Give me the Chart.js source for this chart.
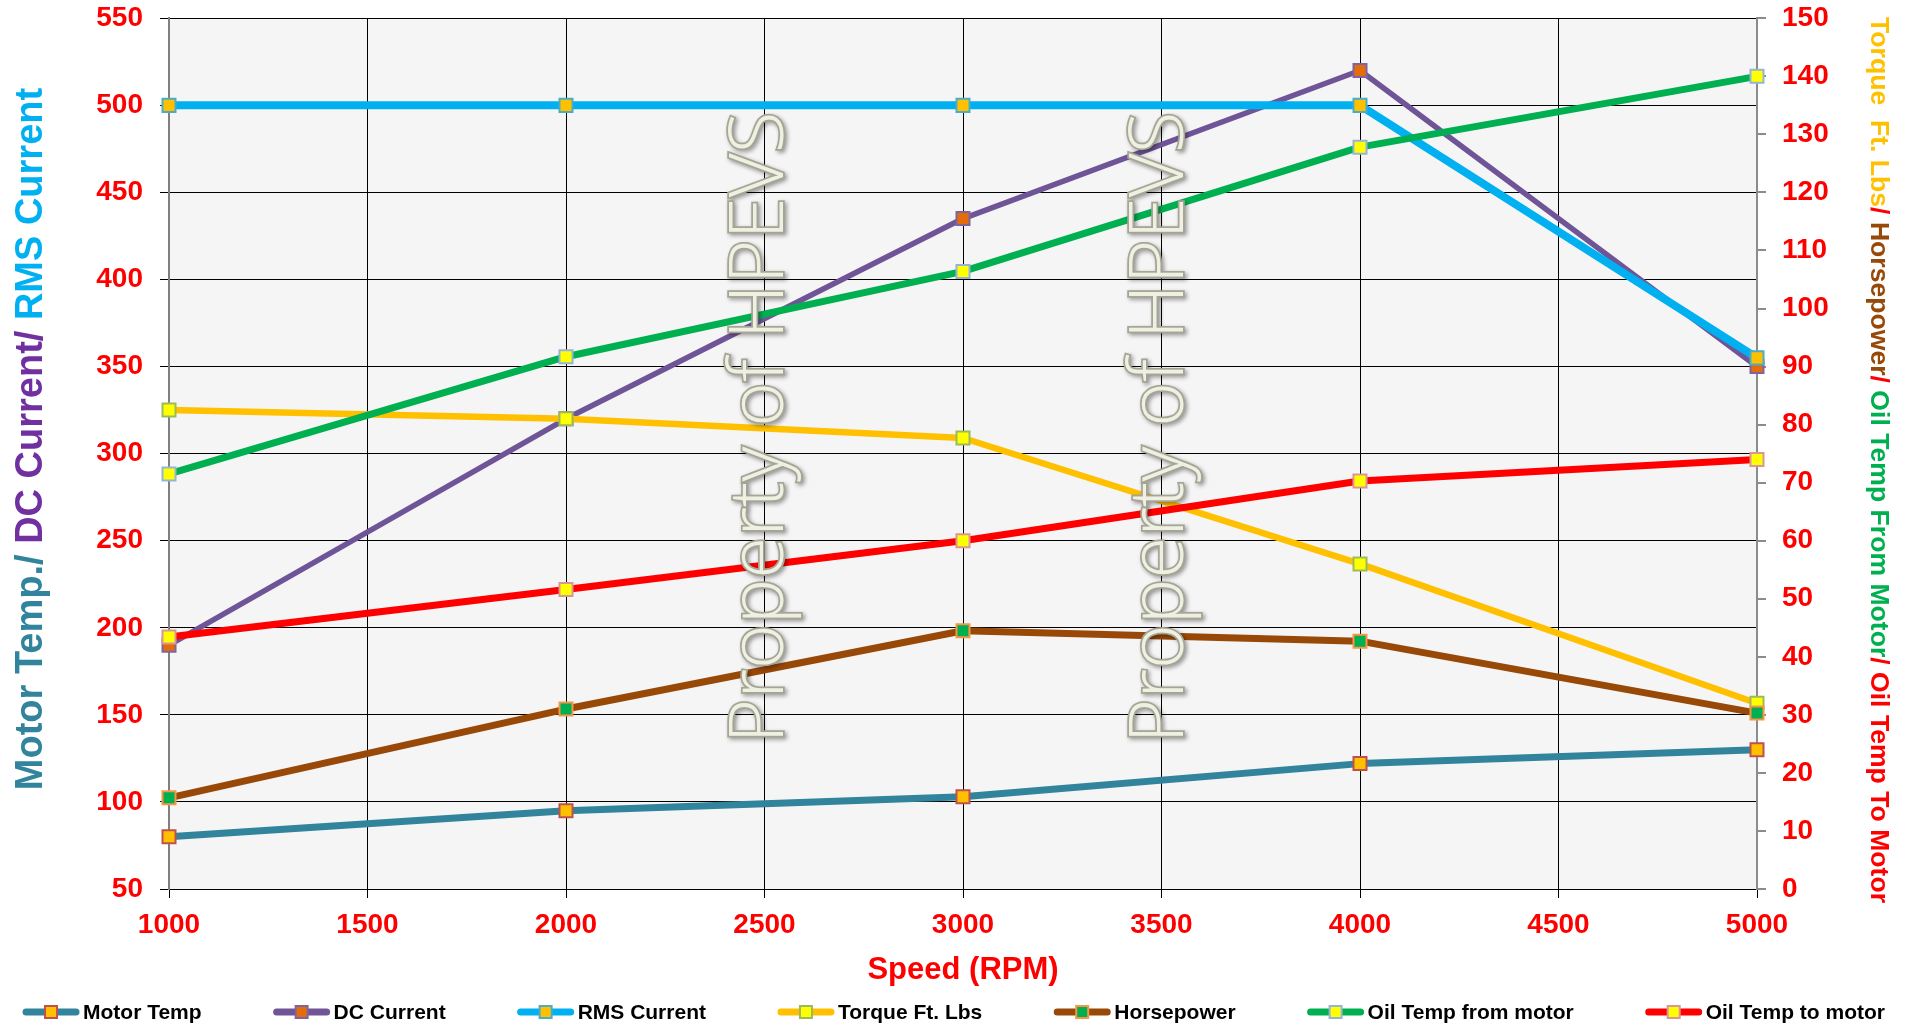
<!DOCTYPE html>
<html>
<head>
<meta charset="utf-8">
<script src="https://cdn.jsdelivr.net/npm/chart.js@4.4.0/dist/chart.umd.min.js"></script>
<style>
  html, body { margin: 0; padding: 0; background: #fff; }
  #wrap { width: 1907px; height: 1026px; position: relative; }
</style>
</head>
<body>
<div id="wrap"><canvas id="motorChart"></canvas></div>
<script>
// values
const speeds = [1000, 2000, 3000, 4000, 5000];
const motorTemp = [80, 95, 103, 122, 130];
const dcCurrent = [190, 320, 435, 520, 350];
const rmsCurrent = [500, 500, 500, 500, 355];
const torqueFtLbs = [82.5, 81, 77.7, 56, 32];
const horsepower = [15.7, 31, 44.5, 42.7, 30.3];
const oilTempFrom = [71.5, 91.7, 106.4, 127.8, 140];
const oilTempTo = [43.4, 51.6, 60, 70.3, 74];

const speedTicks = [1000, 1500, 2000, 2500, 3000, 3500, 4000, 4500, 5000];
const leftTicks = [50, 100, 150, 200, 250, 300, 350, 400, 450, 500, 550];
const rightTicks = [0, 10, 20, 30, 40, 50, 60, 70, 80, 90, 100, 110, 120, 130, 140, 150];

const leftTitle = [['Motor Temp./ ', '#31849B'], ['DC Current/ ', '#7030A0'], ['RMS Current', '#00B0F0']];
const rightTitle = [['Torque  Ft. Lbs', '#FFC000'], ['/ ', '#FF0000'], ['Horsepower', '#984807'], ['/ ', '#FF0000'],
                    ['Oil Temp From Motor', '#00B050'], ['/ ', '#FF0000'], ['Oil Temp To Motor', '#FF0000']];
const watermark = 'Property of HPEVS';

const FONT = '"Liberation Sans", Arial, sans-serif';
Chart.defaults.font.family = FONT;

function series(label, values, axis, line, width, fill, edge, order) {
    return {
        label: label,
        yAxisID: axis,
        data: speeds.map((s, i) => ({ x: s, y: values[i] })),
        borderColor: line,
        borderWidth: width,
        borderJoinStyle: 'round',
        borderCapStyle: 'round',
        pointStyle: 'rect',
        pointRadius: 9.2,
        pointHoverRadius: 9.2,
        pointBackgroundColor: fill,
        pointBorderColor: edge,
        pointBorderWidth: 2,
        tension: 0,
        fill: false,
        clip: false,
        order: order
    };
}

const datasets = [
    series('Motor Temp', motorTemp, 'y', '#31849B', 7, '#FFC000', '#C0504D', 7),
    series('DC Current', dcCurrent, 'y', '#6F5597', 5.5, '#E46C0A', '#8064A2', 6),
    series('RMS Current', rmsCurrent, 'y', '#00B0F0', 8, '#FFC000', '#4BACC6', 5),
    series('Torque Ft. Lbs', torqueFtLbs, 'y1', '#FFC000', 6.5, '#FFFF00', '#9BBB59', 4),
    series('Horsepower', horsepower, 'y1', '#984807', 7, '#00B050', '#F79646', 3),
    series('Oil Temp from motor', oilTempFrom, 'y1', '#00B050', 7, '#FFFF00', '#95B3D7', 2),
    series('Oil Temp to motor', oilTempTo, 'y1', '#FF0000', 7, '#FFFF00', '#D99694', 1)
];

function drawParts(ctx, parts, x, y, angle, font) {
    ctx.save();
    ctx.translate(x, y);
    ctx.rotate(angle);
    ctx.font = font;
    ctx.textAlign = 'left';
    ctx.textBaseline = 'alphabetic';
    const total = parts.reduce((sum, p) => sum + ctx.measureText(p[0]).width, 0);
    let cx = -total / 2;
    parts.forEach(p => {
        ctx.fillStyle = p[1];
        ctx.fillText(p[0], cx, 0);
        cx += ctx.measureText(p[0]).width;
    });
    ctx.restore();
}

const decorPlugin = {
    id: 'decor',
    beforeDraw(chart) {
        const { ctx, chartArea: a } = chart;
        ctx.save();
        ctx.fillStyle = '#F5F5F5';
        ctx.fillRect(a.left, a.top, a.right - a.left, a.bottom - a.top);
        ctx.restore();
    },
    afterDatasetsDraw(chart) {
        const { ctx, chartArea: a } = chart;
        // watermark text laid over the lines
        ctx.save();
        ctx.font = '300 70px "Open Sans"';
        const size = 70 * 632 / ctx.measureText(watermark).width;
        ctx.font = '300 ' + size + 'px "Open Sans"';
        ctx.textAlign = 'center';
        ctx.textBaseline = 'middle';
        [0.373, 0.625].forEach(f => {
            ctx.save();
            ctx.translate(a.left + f * (a.right - a.left), a.top + 0.47 * (a.bottom - a.top));
            ctx.rotate(-Math.PI / 2);
            ctx.shadowColor = 'rgba(0,0,0,0.4)';
            ctx.shadowBlur = 4;
            ctx.shadowOffsetX = 2;
            ctx.shadowOffsetY = 2;
            ctx.lineWidth = 3.5;
            ctx.strokeStyle = '#A5A595';
            ctx.strokeText(watermark, 0, 0);
            ctx.shadowColor = 'transparent';
            ctx.fillStyle = '#F0F0E2';
            ctx.fillText(watermark, 0, 0);
            ctx.restore();
        });
        ctx.restore();
    },
    afterDraw(chart) {
        const ctx = chart.ctx;
        drawParts(ctx, leftTitle, 42, 439, -Math.PI / 2, 'bold 38px ' + FONT);
        drawParts(ctx, rightTitle, 1871, 460, Math.PI / 2, 'bold 26.6px ' + FONT);

        // legend: line + marker, then the name
        ctx.save();
        ctx.font = 'bold 21px ' + FONT;
        const gap = 71;
        const widths = chart.data.datasets.map(ds => 61 + ctx.measureText(ds.label).width);
        const total = widths.reduce((s, w) => s + w, 0) + gap * (widths.length - 1);
        let x = (chart.width - total) / 2;
        const y = chart.height - 14;
        chart.data.datasets.forEach((ds, i) => {
            ctx.strokeStyle = ds.borderColor;
            ctx.lineWidth = 7;
            ctx.lineCap = 'round';
            ctx.beginPath();
            ctx.moveTo(x + 4, y);
            ctx.lineTo(x + 54, y);
            ctx.stroke();
            ctx.fillStyle = ds.pointBackgroundColor;
            ctx.fillRect(x + 23, y - 6, 12, 12);
            ctx.lineWidth = 2;
            ctx.strokeStyle = ds.pointBorderColor;
            ctx.strokeRect(x + 23, y - 6, 12, 12);
            ctx.fillStyle = '#000';
            ctx.textAlign = 'left';
            ctx.textBaseline = 'middle';
            ctx.fillText(ds.label, x + 61, y + 1);
            x += widths[i] + gap;
        });
        ctx.restore();
    }
};

const tickFont = { family: FONT, size: 28, weight: 'bold' };
const plainLabel = v => String(v);

new Chart(document.getElementById('motorChart'), {
    type: 'line',
    data: { datasets: datasets },
    plugins: [decorPlugin],
    options: {
        responsive: true,
        maintainAspectRatio: false,
        animation: false,
        layout: { padding: { top: 18.3, bottom: 37, left: 0, right: 0 } },
        plugins: { legend: { display: false }, tooltip: { enabled: false } },
        scales: {
            x: {
                type: 'linear',
                min: 1000,
                max: 5000,
                afterBuildTicks: s => { s.ticks = speedTicks.map(v => ({ value: v })); },
                afterFit: s => { s.height = 100; },
                ticks: { font: tickFont, color: '#FF0000', padding: 10, maxRotation: 0, callback: plainLabel },
                grid: { color: '#000', lineWidth: 1, tickLength: 9 },
                border: { color: '#000', width: 1 },
                title: { display: true, text: 'Speed (RPM)', color: '#FF0000', font: { family: FONT, size: 31, weight: 'bold' }, padding: { top: 0, bottom: 0 } }
            },
            y: {
                position: 'left',
                min: 50,
                max: 550,
                afterBuildTicks: s => { s.ticks = leftTicks.map(v => ({ value: v })); },
                afterFit: s => { s.width = 169; s.paddingTop = 0; },
                ticks: { font: tickFont, color: '#FF0000', padding: 17, callback: plainLabel },
                grid: { color: '#000', lineWidth: 1, tickLength: 9 },
                border: { color: '#808080', width: 2 }
            },
            y1: {
                position: 'right',
                min: 0,
                max: 150,
                afterBuildTicks: s => { s.ticks = rightTicks.map(v => ({ value: v })); },
                afterFit: s => { s.width = 150; s.paddingTop = 0; },
                ticks: { font: tickFont, color: '#FF0000', padding: 16, callback: plainLabel },
                grid: { drawOnChartArea: false, color: '#8C8C8C', lineWidth: 2, tickLength: 9 },
                border: { color: '#8C8C8C', width: 2 }
            }
        }
    }
});
</script>
</body>
</html>
